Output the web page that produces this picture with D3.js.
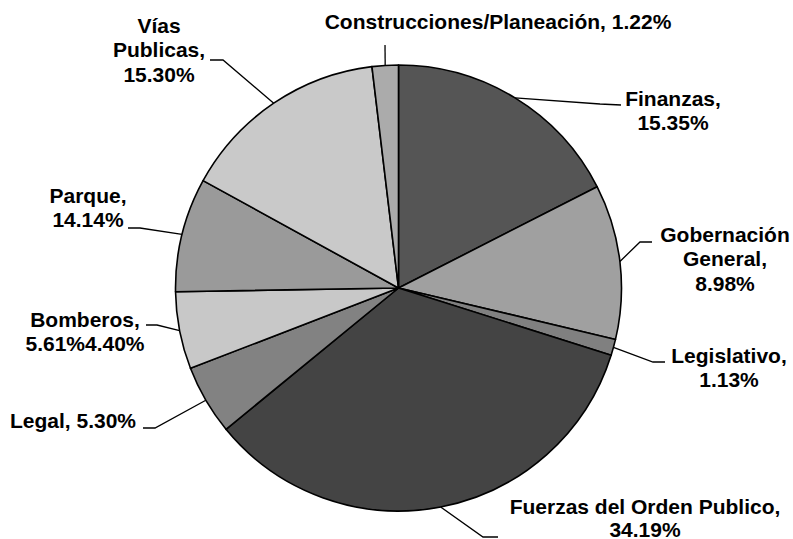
<!DOCTYPE html>
<html><head><meta charset="utf-8">
<script src="https://cdn.jsdelivr.net/npm/d3@7"></script>
<style>body{margin:0;background:#fff}svg{display:block}text{font-family:"Liberation Sans",Arial,sans-serif;font-weight:bold;font-size:21px;fill:#000}</style>
</head><body>
<script>
// Data (clockwise from 12 o'clock)
const categories = ["Finanzas","Gobernación General","Legislativo","Fuerzas del Orden Publico","Legal","Bomberos","Parque","Vías Publicas","Construcciones/Planeación"];
const values = [17.5, 11.2, 1.17, 34.2, 5.06, 5.6, 8.26, 15.1, 1.9];
const labelLines = [
  ["Finanzas,","15.35%"],
  ["Gobernación","General,","8.98%"],
  ["Legislativo,","1.13%"],
  ["Fuerzas del Orden Publico,","34.19%"],
  ["Legal, 5.30%"],
  ["Bomberos,","5.61%4.40%"],
  ["Parque,","14.14%"],
  ["Vías","Publicas,","15.30%"],
  ["Construcciones/Planeación, 1.22%"]
];
const colors = ["#555555","#a0a0a0","#808080","#444444","#828282","#c8c8c8","#9a9a9a","#c9c9c9","#ababab"];

// Layout (label text anchor, leader elbow & end)
const layout = [
  {tx:673, ty:106, lh:24.3, elbow:[600,104], end:[621,105]},
  {tx:725, ty:242, lh:24.3, elbow:[640,242], end:[652,242]},
  {tx:729, ty:363, lh:24.3, elbow:[653,362], end:[665,362]},
  {tx:645, ty:514, lh:22.5, elbow:[483,537], end:[498,537]},
  {tx:73,  ty:428, lh:24.3, elbow:[155,428], end:[143,428]},
  {tx:85,  ty:327, lh:24.3, elbow:[157,325], end:[146,325]},
  {tx:88,  ty:203, lh:24.3, elbow:[140,228], end:[128,228]},
  {tx:159, ty:33,  lh:24.3, elbow:[223,60],  end:[210,60]},
  {tx:498, ty:29,  lh:24.3, elbow:[385,45],  end:[385,45]}
];

const W = 793, H = 539, cx = 398.5, cy = 288, R = 223;
const svg = d3.select("body").append("svg").attr("width", W).attr("height", H);

const pie = d3.pie().sort(null).value(d => d)(values);
const arc = d3.arc().innerRadius(0).outerRadius(R);
const edge = d3.arc().innerRadius(R).outerRadius(R);

const g = svg.append("g").attr("transform", `translate(${cx},${cy})`);
g.selectAll("path").data(pie).join("path")
  .attr("d", arc)
  .attr("fill", (d, i) => colors[i])
  .attr("stroke", "#000").attr("stroke-width", 1.6).attr("stroke-linejoin", "round");

// Leader lines
pie.forEach((d, i) => {
  const c = edge.centroid(d);
  const p0 = [cx + c[0], cy + c[1]];
  const L = layout[i];
  svg.append("polyline")
    .attr("points", [p0, L.elbow, L.end].map(p => p.join(",")).join(" "))
    .attr("fill", "none").attr("stroke", "#000").attr("stroke-width", 1.3);
});

// Labels
labelLines.forEach((lines, i) => {
  const L = layout[i];
  const t = svg.append("text").attr("text-anchor", "middle");
  lines.forEach((s, k) => {
    t.append("tspan").attr("x", L.tx).attr("y", L.ty + k * L.lh).text(s);
  });
});
</script>
</body></html>
